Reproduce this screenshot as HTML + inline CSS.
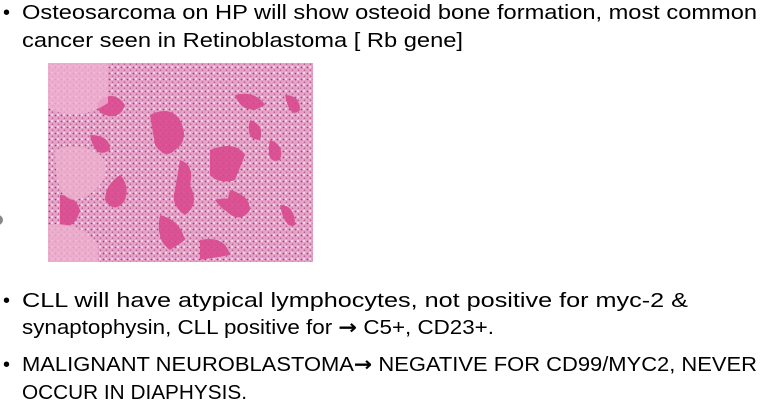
<!DOCTYPE html>
<html><head><meta charset="utf-8"><style>
html,body{margin:0;padding:0;background:#fff;width:765px;height:409px;overflow:hidden}
svg{display:block}
text{font-family:"Liberation Sans",sans-serif;font-size:20px;fill:#000}
.arr{font-family:"DejaVu Sans",sans-serif;font-weight:bold;font-size:20px}
</style></head><body>
<svg width="765" height="409">
<g>
<text x="3" y="19">•</text>
<text x="22" y="19" textLength="735" lengthAdjust="spacingAndGlyphs">Osteosarcoma on HP will show osteoid bone formation, most common</text>
<text x="22" y="47" textLength="441" lengthAdjust="spacingAndGlyphs">cancer seen in Retinoblastoma  [ Rb gene]</text>
</g>
<circle cx="-2" cy="220" r="5" fill="#888"/>
<g>
<defs>
<pattern id="cells" width="6" height="6" patternUnits="userSpaceOnUse">
<rect width="6" height="6" fill="#e7a3c7"/>
<circle cx="1.5" cy="1.5" r="0.9" fill="#9a3f86"/>
<circle cx="4.5" cy="4.2" r="0.8" fill="#b25a98"/>
<rect x="3" y="0" width="2" height="2" fill="#f4d4e4"/>
</pattern>
</defs>
<rect x="48" y="63" width="265" height="199" fill="url(#cells)"/>
<g fill="#d94a8e" opacity="0.9">
<path d="M100 100 q15 -10 25 5 q-5 15 -20 10 q-12 -5 -5 -15z"/>
<path d="M150 115 q20 -10 30 5 q10 20 -5 30 q-10 10 -20 -5z"/>
<path d="M180 160 q15 5 10 25 q10 20 -5 30 q-15 -10 -10 -25z"/>
<path d="M210 150 q25 -10 35 5 l-10 25 q-15 5 -25 -5z"/>
<path d="M230 190 q20 5 20 20 q-10 15 -25 0z"/>
<path d="M120 175 q10 10 5 25 q-10 15 -20 0 q0 -15 15 -25z"/>
<path d="M60 195 q15 0 20 15 q-5 20 -20 15z"/>
<path d="M160 215 q20 5 25 25 l-15 10 q-15 -10 -10 -35z"/>
<path d="M270 140 q15 5 10 20 q-15 5 -10 -20z"/>
<path d="M285 95 q15 0 15 15 q-10 10 -15 -15z"/>
<path d="M250 120 q15 5 10 20 q-15 0 -10 -20z"/>
<path d="M90 135 q20 0 20 15 q-15 10 -20 -15z"/>
<path d="M280 205 q15 0 15 20 q-10 5 -15 -20z"/>
<path d="M200 240 q25 -5 30 15 l-30 5z"/>
<path d="M215 200 q15 -5 30 5 l-5 10 q-15 0 -25 -15z"/>
<path d="M235 95 q20 -5 30 10 l-10 5 q-15 0 -20 -15z"/>
</g>
<g fill="#eeb0cf" opacity="0.8">
<path d="M48 63 h60 v40 q-30 20 -60 5z"/>
<path d="M55 150 q30 -10 50 10 q5 30 -30 40 q-20 0 -20 -50z"/>
<path d="M48 225 q30 -5 50 20 v17 h-50z"/>
</g>
</g>
<g>
<text x="3" y="307">•</text>
<text x="22" y="307" textLength="666" lengthAdjust="spacingAndGlyphs">CLL will have atypical lymphocytes, not positive for myc-2 &amp;</text>
<text x="22" y="334" textLength="472" lengthAdjust="spacingAndGlyphs">synaptophysin, CLL positive for <tspan class="arr">→</tspan> C5+, CD23+.</text>
</g>
<g>
<text x="3" y="371">•</text>
<text x="22" y="371" textLength="735" lengthAdjust="spacingAndGlyphs">MALIGNANT NEUROBLASTOMA<tspan class="arr">→</tspan> NEGATIVE FOR CD99/MYC2, NEVER</text>
<text x="22" y="399" textLength="225" lengthAdjust="spacingAndGlyphs">OCCUR IN DIAPHYSIS.</text>
</g>
</svg>
</body></html>
